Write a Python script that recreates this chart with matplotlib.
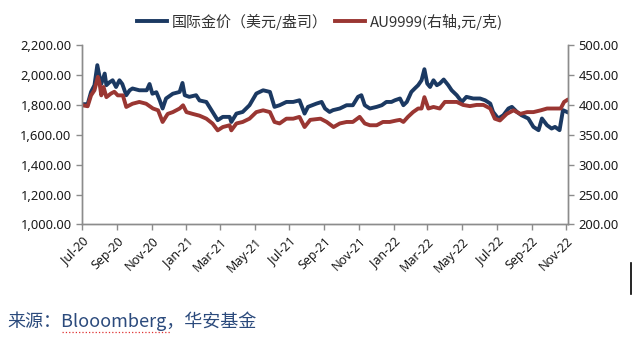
import pandas as pd
import matplotlib.pyplot as plt
import matplotlib.dates as mdates
from matplotlib.ticker import FuncFormatter, MultipleLocator
from matplotlib.lines import Line2D

plt.rcParams['font.family'] = ['Noto Sans CJK SC', 'DejaVu Sans']

# 国际金价 (美元/盎司), 读图所得
gold_dates = [
    "2020-07-02", "2020-07-11", "2020-07-17", "2020-07-23", "2020-07-28", "2020-08-01",
    "2020-08-04", "2020-08-10", "2020-08-13", "2020-08-18", "2020-08-24", "2020-08-30",
    "2020-09-05", "2020-09-10", "2020-09-17", "2020-09-23", "2020-09-28", "2020-10-10",
    "2020-10-23", "2020-10-28", "2020-11-02", "2020-11-09", "2020-11-15", "2020-11-20",
    "2020-11-26", "2020-12-08", "2020-12-20", "2020-12-25", "2020-12-29", "2021-01-06",
    "2021-01-18", "2021-01-24", "2021-02-05", "2021-02-14", "2021-02-25", "2021-03-06",
    "2021-03-18", "2021-03-21", "2021-03-30", "2021-04-10", "2021-04-22", "2021-05-04",
    "2021-05-16", "2021-05-28", "2021-06-05", "2021-06-14", "2021-06-26", "2021-07-08",
    "2021-07-19", "2021-07-28", "2021-08-03", "2021-08-18", "2021-08-27", "2021-09-02",
    "2021-09-10", "2021-09-16", "2021-09-28", "2021-10-10", "2021-10-21", "2021-10-30",
    "2021-11-05", "2021-11-11", "2021-11-20", "2021-12-02", "2021-12-11", "2021-12-19",
    "2021-12-28", "2022-01-03", "2022-01-12", "2022-01-18", "2022-01-24", "2022-02-01",
    "2022-02-07", "2022-02-13", "2022-02-19", "2022-02-24", "2022-03-01", "2022-03-06",
    "2022-03-12", "2022-03-18", "2022-03-23", "2022-03-30", "2022-04-07", "2022-04-13",
    "2022-04-22", "2022-05-01", "2022-05-09", "2022-05-21", "2022-06-02", "2022-06-11",
    "2022-06-20", "2022-06-25", "2022-07-04", "2022-07-13", "2022-07-22", "2022-07-28",
    "2022-08-06", "2022-08-14", "2022-08-26", "2022-09-04", "2022-09-13", "2022-09-19",
    "2022-09-28", "2022-10-06", "2022-10-12", "2022-10-20", "2022-10-26", "2022-11-02",
]
gold_usd = [
    1805, 1805, 1887, 1932, 2066, 1988, 1940, 2010, 1932, 1950, 1965, 1920,
    1965, 1940, 1865, 1898, 1910, 1898, 1898, 1940, 1875, 1885, 1830, 1776,
    1843, 1875, 1887, 1947, 1865, 1854, 1865, 1830, 1820, 1765, 1698, 1720,
    1720, 1686, 1742, 1753, 1798, 1876, 1898, 1887, 1787, 1798, 1820, 1820,
    1831, 1742, 1787, 1809, 1820, 1776, 1753, 1765, 1776, 1798, 1798, 1854,
    1865, 1798, 1776, 1787, 1798, 1820, 1820, 1831, 1843, 1798, 1820, 1887,
    1910, 1932, 1965, 2039, 1943, 1920, 1965, 1932, 1943, 1970, 1932, 1898,
    1865, 1820, 1854, 1843, 1843, 1831, 1809, 1753, 1709, 1731, 1776, 1787,
    1753, 1731, 1709, 1653, 1631, 1709, 1664, 1642, 1653, 1631, 1765, 1753,
]

# AU9999 (元/克), 右轴
au_dates = [
    "2020-07-02", "2020-07-11", "2020-07-17", "2020-07-23", "2020-07-29", "2020-08-01",
    "2020-08-04", "2020-08-08", "2020-08-13", "2020-08-21", "2020-08-27", "2020-09-02",
    "2020-09-11", "2020-09-17", "2020-09-28", "2020-10-10", "2020-10-22", "2020-11-03",
    "2020-11-12", "2020-11-20", "2020-11-29", "2020-12-08", "2020-12-20", "2020-12-26",
    "2021-01-01", "2021-01-12", "2021-01-24", "2021-02-05", "2021-02-16", "2021-02-25",
    "2021-03-06", "2021-03-18", "2021-03-21", "2021-03-30", "2021-04-10", "2021-04-22",
    "2021-05-04", "2021-05-16", "2021-05-28", "2021-06-05", "2021-06-14", "2021-06-26",
    "2021-07-08", "2021-07-19", "2021-07-28", "2021-08-07", "2021-08-25", "2021-09-05",
    "2021-09-17", "2021-09-28", "2021-10-10", "2021-10-21", "2021-11-02", "2021-11-11",
    "2021-11-20", "2021-12-02", "2021-12-13", "2021-12-25", "2022-01-06", "2022-01-12",
    "2022-01-18", "2022-01-26", "2022-02-04", "2022-02-13", "2022-02-19", "2022-02-24",
    "2022-03-03", "2022-03-12", "2022-03-23", "2022-04-01", "2022-04-10", "2022-04-22",
    "2022-05-03", "2022-05-15", "2022-05-27", "2022-06-08", "2022-06-20", "2022-06-28",
    "2022-07-07", "2022-07-19", "2022-07-31", "2022-08-12", "2022-08-24", "2022-09-04",
    "2022-09-17", "2022-09-28", "2022-10-10", "2022-10-22", "2022-10-28", "2022-11-02",
]
au_cny = [
    399.4, 397.8, 416, 424.6, 447, 436, 416, 430, 413, 419, 422, 416,
    416, 396.6, 402, 405, 402, 394, 391, 371.5, 385, 388, 394, 399.4,
    388, 385, 382, 377, 368.8, 357.5, 363, 366, 357.5, 369, 371.5, 377,
    388, 391, 388, 371.5, 369, 377, 377, 380, 363, 375, 377, 371.5,
    363, 369, 371.5, 371.5, 380, 369, 366, 366, 371.5, 371.5, 374, 375,
    371.5, 380, 388, 394, 394, 413, 394, 396.6, 394, 405, 405, 405,
    400, 398, 400, 400, 394, 377, 374, 385, 391, 385, 388, 388,
    391, 394, 394, 394, 405, 408,
]

navy = "#1B3962"
brick = "#9A3632"
grey = "#8C8C8C"

fig = plt.figure(figsize=(6.34, 3.42), dpi=100)
ax = fig.add_axes([0.1293, 0.3436, 0.7667, 0.5244])
ax2 = ax.twinx()

ax.plot(pd.to_datetime(gold_dates), gold_usd, color=navy, lw=2.8, solid_joinstyle="round")
ax2.plot(pd.to_datetime(au_dates), au_cny, color=brick, lw=2.8, solid_joinstyle="round")

ax.set_xlim(pd.Timestamp("2020-07-01"), pd.Timestamp("2022-11-04"))
ax.set_ylim(1000, 2200)
ax2.set_ylim(200, 500)
ax.yaxis.set_major_locator(MultipleLocator(200))
ax2.yaxis.set_major_locator(MultipleLocator(50))
ax.yaxis.set_major_formatter(FuncFormatter(lambda v, p: f"{v:,.2f}"))
ax2.yaxis.set_major_formatter(FuncFormatter(lambda v, p: f"{v:.2f}"))

ax.xaxis.set_major_locator(mdates.MonthLocator(bymonth=[1, 3, 5, 7, 9, 11]))
ax.xaxis.set_major_formatter(mdates.DateFormatter("%b-%y"))

for a in (ax, ax2):
    a.spines["top"].set_visible(False)
    for s in ("left", "right", "bottom"):
        a.spines[s].set_color(grey)
        a.spines[s].set_linewidth(1.0)
    a.tick_params(axis="both", colors=grey, length=4, width=1, labelcolor="#1a1a1a",
                  labelsize=9.3)
    a.set_facecolor("none")

for lbl in ax.get_yticklabels() + ax2.get_yticklabels():
    lbl.set_family("Noto Sans")
for lbl in ax.get_xticklabels():
    lbl.set_family("Noto Sans")
    lbl.set_rotation(45)
    lbl.set_ha("right")
    lbl.set_rotation_mode("anchor")
    lbl.set_fontsize(9)

handles = [Line2D([], [], color=navy, lw=2.8), Line2D([], [], color=brick, lw=2.8)]
fig.legend(handles, ["国际金价（美元/盎司）", "AU9999(右轴,元/克)"], loc="upper center",
           bbox_to_anchor=(0.505, 1.0), ncol=2, frameon=False, fontsize=10.8,
           handlelength=2.0, handletextpad=0.33, columnspacing=0.5,
           labelcolor="#333333")

fig.text(0.012, 0.06, "来源：Blooomberg，华安基金", fontsize=13, color="#2B4A7C",
         ha="left", va="center")
# 拼写检查的红色下划线和光标
fig.add_artist(Line2D([0.098, 0.268], [0.030, 0.030], color="#E03030", lw=0.9, ls=":",
                      transform=fig.transFigure))
fig.add_artist(Line2D([0.996, 0.996], [0.14, 0.23], color="black", lw=1.2,
                      transform=fig.transFigure))

fig.savefig("out.png", dpi=100)
